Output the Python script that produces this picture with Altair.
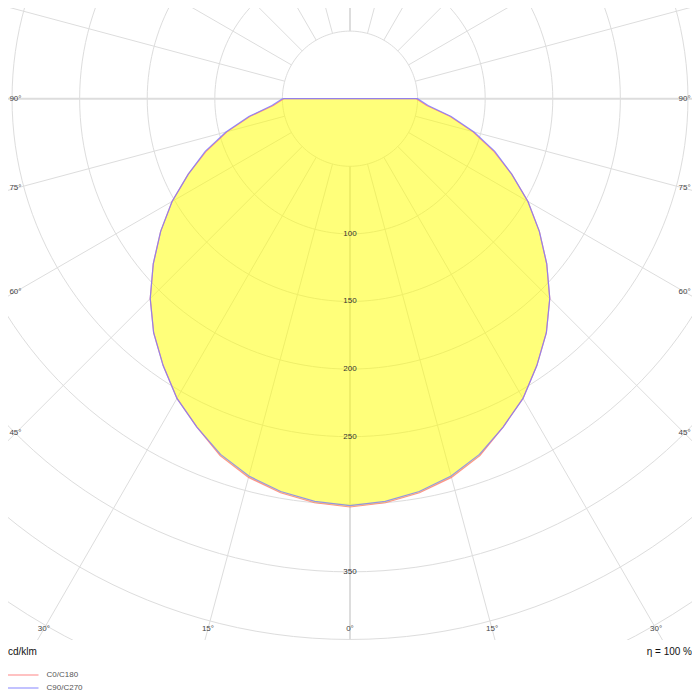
import altair as alt
import pandas as pd

# ---- data (cd/klm) ----
ANGLES = [0, 5, 10, 15, 20, 25, 30, 35, 40, 45, 50, 55, 60, 65, 70, 75, 80, 85, 90]
C0_C180 = [302, 300, 296, 290, 281, 268, 256, 241, 226, 209, 190, 171, 152, 132, 113, 94, 75, 57, 49]
C90_C270 = [301, 299, 295, 289, 280, 268, 256, 241, 226, 209, 190, 171, 152, 132, 114, 95, 76, 58, 50]
SERIES = ["C0/C180", "C90/C270"]
RINGS = [50, 100, 150, 200, 250, 300, 350, 400, 450, 500]
RING_LABELS = [100, 150, 200, 250, 350]
SPOKES = list(range(0, 360, 15))
ANGLE_LABELS = [90, 75, 60, 45, 30, 15, 0]
ETA_TEXT = "η = 100 %"
UNIT_TEXT = "cd/klm"


def closed_path(name, vals):
    """Left half (C180 side) 90->0, right half 0->90, then close back to the start."""
    rows = []
    k = 0
    for a, v in zip(ANGLES[::-1], vals[::-1]):
        rows.append({"series": name, "s": -a, "I": v, "k": k}); k += 1
    for a, v in zip(ANGLES[1:], vals[1:]):
        rows.append({"series": name, "s": a, "I": v, "k": k}); k += 1
    rows.append({"series": name, "s": -ANGLES[-1], "I": vals[-1], "k": k})
    return rows


curves = pd.DataFrame(closed_path(SERIES[0], C0_C180) + closed_path(SERIES[1], C90_C270))
fill_df = pd.DataFrame(closed_path("fill", C0_C180))

ring_df = pd.DataFrame([{"r": r, "phi": p} for r in RINGS for p in range(0, 361, 2)])
spoke_df = pd.DataFrame({"a": SPOKES})
rlab_df = pd.DataFrame({"r": RING_LABELS})
alab_df = pd.DataFrame([{"s": s} for a in ANGLE_LABELS for s in ([0] if a == 0 else [-a, a])])

X = alt.Scale(domain=[-253, 253], nice=False, zero=False)
Y = alt.Scale(domain=[-67.1, 400.4], nice=False, zero=False, reverse=True)
GRID = "#dddddd"
FONT = "Liberation Sans"
POLAR = dict(x="datum.I*sin(datum.s*PI/180)", y="datum.I*cos(datum.s*PI/180)")

rings = alt.Chart(ring_df).transform_calculate(
    x="datum.r*sin(datum.phi*PI/180)", y="datum.r*cos(datum.phi*PI/180)"
).mark_line(color=GRID, strokeWidth=1, clip=True).encode(
    x=alt.X("x:Q", scale=X, axis=None),
    y=alt.Y("y:Q", scale=Y, axis=None),
    detail="r:N",
    order="phi:Q",
)

spokes = alt.Chart(spoke_df).transform_calculate(
    x="50*sin(datum.a*PI/180)", y="50*cos(datum.a*PI/180)",
    x2="700*sin(datum.a*PI/180)", y2="700*cos(datum.a*PI/180)",
    w="datum.a % 90 == 0 ? 2 : 1",
).mark_rule(color=GRID, clip=True).encode(
    x=alt.X("x:Q", scale=X, axis=None),
    y=alt.Y("y:Q", scale=Y, axis=None),
    x2="x2:Q",
    y2="y2:Q",
    strokeWidth=alt.StrokeWidth("w:Q", scale=None, legend=None),
)

fill = alt.Chart(fill_df).transform_calculate(**POLAR).mark_line(
    fill="#ffff00", fillOpacity=0.52, strokeOpacity=0, strokeWidth=0
).encode(
    x=alt.X("x:Q", scale=X, axis=None),
    y=alt.Y("y:Q", scale=Y, axis=None),
    order="k:Q",
)

lines = alt.Chart(curves).transform_calculate(**POLAR).mark_line(
    strokeWidth=1.2, opacity=0.8
).encode(
    x=alt.X("x:Q", scale=X, axis=None),
    y=alt.Y("y:Q", scale=Y, axis=None),
    order="k:Q",
    color=alt.Color(
        "series:N",
        scale=alt.Scale(domain=SERIES, range=["#ff7a7a", "#7a7aff"]),
        legend=alt.Legend(
            title=None, orient="none", legendX=7, legendY=661,
            symbolType="M-3.5,0H3.5", symbolSize=100, symbolStrokeWidth=2,
            symbolOpacity=0.45, labelFontSize=8, labelColor="#555555",
            labelFont=FONT, labelOffset=19.5, rowPadding=3, padding=0,
        ),
    ),
)

ring_text = alt.Chart(rlab_df).transform_calculate(zero="0").mark_text(
    fontSize=8, font=FONT, color="#333333", align="center", baseline="middle"
).encode(
    x=alt.X("zero:Q", scale=X, axis=None),
    y=alt.Y("r:Q", scale=Y, axis=None),
    text="r:Q",
)

angle_text = alt.Chart(alab_df).transform_calculate(
    t="min(247.5/abs(sin(datum.s*PI/180)), 392.2/cos(datum.s*PI/180))",
    x="datum.t*sin(datum.s*PI/180)", y="datum.t*cos(datum.s*PI/180)",
    lab="abs(datum.s) + '°'",
).mark_text(fontSize=8, font=FONT, color="#444444", align="center", baseline="middle").encode(
    x=alt.X("x:Q", scale=X, axis=None),
    y=alt.Y("y:Q", scale=Y, axis=None),
    text="lab:N",
)

unit = alt.Chart(pd.DataFrame({"t": [UNIT_TEXT]})).mark_text(
    fontSize=10, font=FONT, color="#111111", align="left", baseline="middle"
).encode(x=alt.value(0), y=alt.value(644), text="t:N")

eta = alt.Chart(pd.DataFrame({"t": [ETA_TEXT]})).mark_text(
    fontSize=10, font=FONT, color="#111111", align="right", baseline="middle"
).encode(x=alt.value(684), y=alt.value(644), text="t:N")

chart = alt.layer(rings, spokes, fill, ring_text, lines, angle_text, unit, eta).properties(
    width=684, height=632,
    autosize=alt.AutoSizeParams(type="none"),
    padding={"left": 0, "top": 0, "right": 0, "bottom": 52},
).configure_view(strokeWidth=0)

chart.save("out.html", embed_options={"renderer": "svg", "actions": False})
